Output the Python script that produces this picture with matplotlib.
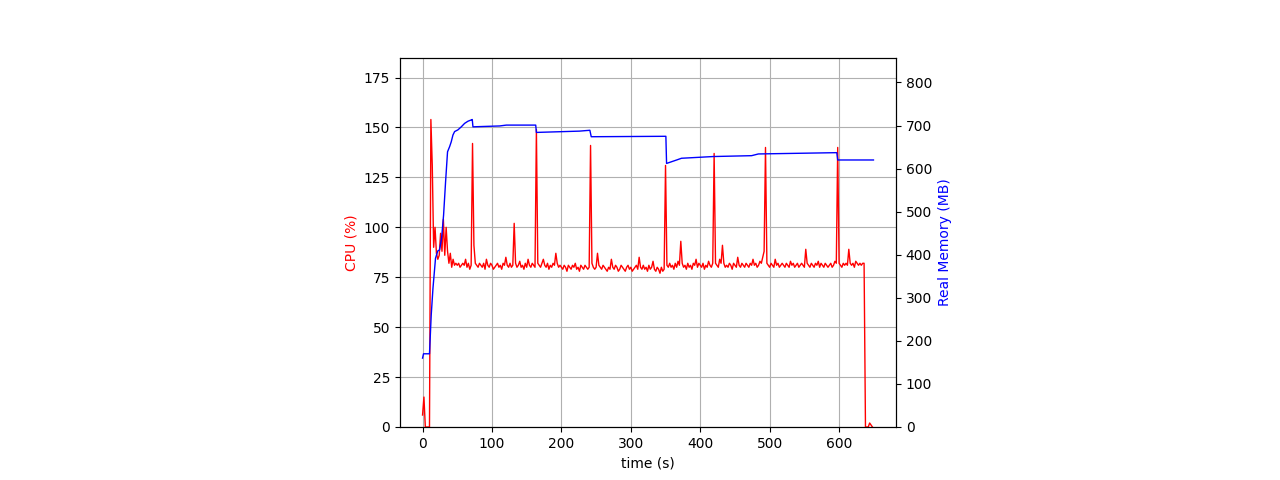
import numpy as np
import matplotlib
matplotlib.use("Agg")
import matplotlib.pyplot as plt

# CPU samples every 2 s
cpu_step = 2
cpu_pct = [
    6, 15, 0, 0, 0, 0, 154, 131, 90, 100, 87, 84, 86, 97, 88, 104, 86, 100, 88, 82,
    87, 80, 84, 81, 82, 81, 82, 80, 81, 82, 81, 84, 80, 82, 79, 81, 142, 91, 82, 81,
    80, 82, 81, 80, 82, 79, 84, 81, 80, 82, 81, 79, 80, 81, 82, 80, 81, 79, 82, 81,
    85, 81, 80, 82, 80, 81, 102, 82, 80, 81, 83, 80, 81, 79, 82, 80, 84, 81, 80, 82,
    81, 80, 149, 82, 81, 80, 82, 84, 81, 80, 82, 79, 81, 80, 82, 81, 87, 82, 80, 81,
    80, 79, 81, 80, 78, 81, 80, 79, 81, 80, 82, 79, 80, 78, 81, 80, 79, 81, 80, 79,
    80, 141, 82, 80, 79, 80, 87, 81, 80, 79, 81, 80, 79, 78, 80, 79, 84, 80, 79, 81,
    80, 78, 79, 81, 80, 79, 78, 80, 81, 79, 80, 78, 79, 80, 81, 79, 85, 80, 79, 81,
    79, 80, 78, 81, 79, 80, 83, 79, 78, 80, 79, 77, 80, 78, 79, 131, 81, 80, 82, 80,
    81, 79, 82, 80, 83, 81, 93, 82, 80, 81, 79, 82, 80, 81, 79, 82, 81, 84, 80, 82,
    81, 80, 82, 79, 81, 80, 83, 81, 80, 82, 137, 82, 81, 80, 84, 82, 91, 82, 80, 81,
    80, 82, 81, 79, 82, 81, 80, 85, 81, 80, 82, 81, 80, 82, 81, 80, 82, 81, 84, 81,
    82, 80, 81, 83, 82, 85, 88, 140, 82, 81, 80, 82, 81, 80, 84, 81, 82, 80, 81, 82,
    81, 80, 82, 81, 80, 83, 81, 82, 80, 81, 82, 80, 81, 82, 81, 80, 89, 82, 81, 80,
    82, 81, 80, 82, 81, 83, 80, 82, 81, 80, 82, 81, 80, 81, 82, 80, 81, 83, 82, 140,
    82, 81, 80, 82, 81, 82, 81, 89, 82, 81, 82, 80, 83, 82, 81, 82, 81, 82, 82, 0,
    0, 0, 2, 1, 0,
]
cpu_t = np.arange(len(cpu_pct)) * cpu_step

mem_t = [0, 1.4, 10, 12.5, 15, 18.7, 22, 24.5, 27.4, 30.3, 33.2, 36, 39, 41.3,
         43.8, 46.2, 51, 55.8, 60.6, 65.4, 70.2, 71.6, 72.6, 111, 120.7, 163,
         164, 226, 241, 243, 350.5, 351.5, 366, 373, 418.7, 474, 483.7, 596.7,
         598, 649.5]
mem_mb = [160, 170, 170, 260, 322, 392, 409, 411, 438, 492, 570, 639, 651, 662,
          678, 686, 690, 697, 705, 710, 713, 714, 697, 699, 701, 701,
          684, 687, 689, 674, 675, 612, 620, 624, 628, 630, 634, 637,
          620, 620]

fig = plt.figure(figsize=(12.8, 4.8), dpi=100)
ax = fig.add_axes([400 / 1280, 53 / 480, 496 / 1280, 369 / 480])
ax.plot(cpu_t, cpu_pct, color="red", linewidth=1)
ax.set_xlabel("time (s)")
ax.set_ylabel("CPU (%)", color="red")
ax.set_ylim(0, max(cpu_pct) * 1.2)
ax.grid(True)

ax2 = ax.twinx()
ax2.plot(mem_t, mem_mb, color="blue", linewidth=1)
ax2.set_ylabel("Real Memory (MB)", color="blue")
ax2.set_ylim(0, max(mem_mb) * 1.2)

fig.savefig("out.png", dpi=100)
